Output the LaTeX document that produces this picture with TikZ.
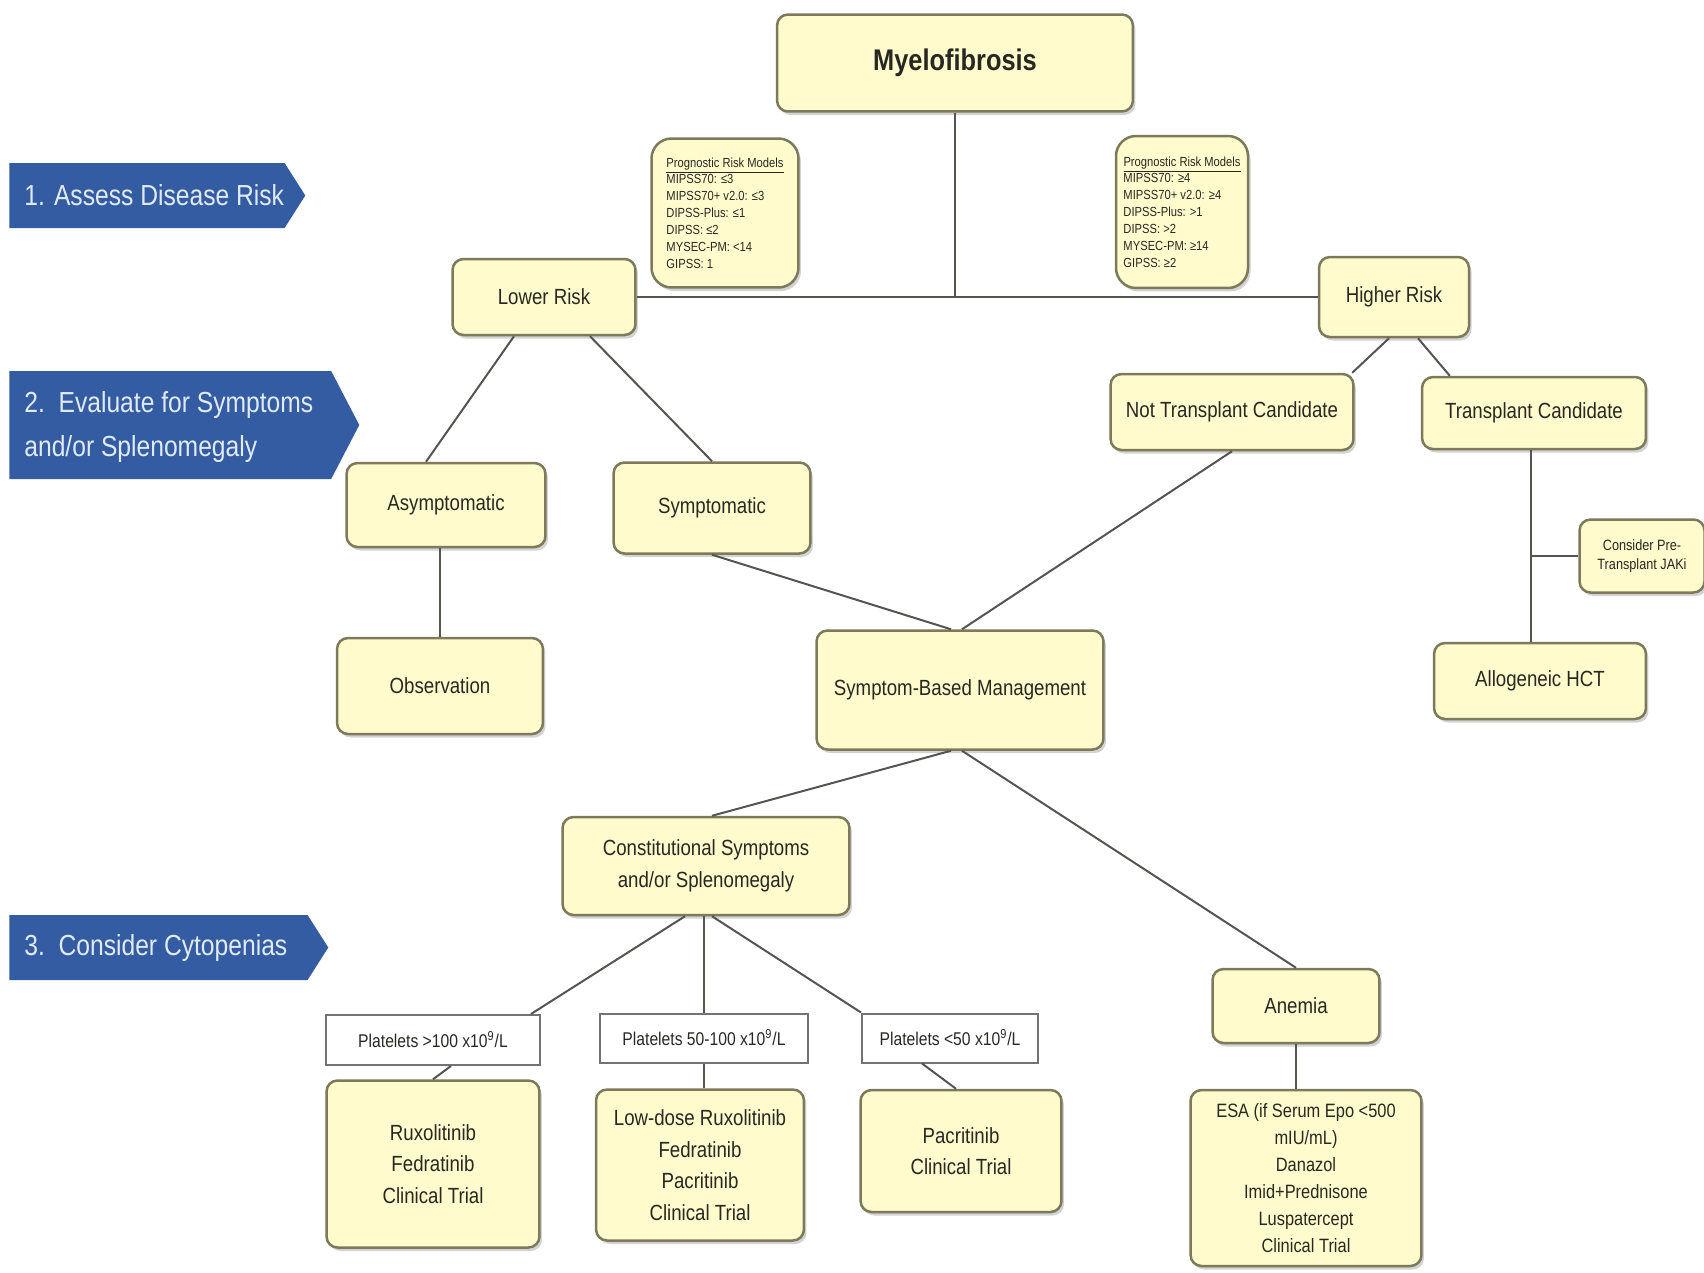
\documentclass[tikz,border=0pt]{standalone}
\usepackage{fontspec}
\setmainfont{Liberation Sans}[FakeStretch=0.85]
\usetikzlibrary{shadows,shapes.symbols}
\definecolor{boxfill}{RGB}{255,251,204}
\definecolor{boxline}{RGB}{125,122,92}
\definecolor{wirecol}{RGB}{85,85,80}
\definecolor{bannerblue}{RGB}{52,92,162}
\definecolor{bannerwhite}{RGB}{225,234,247}
\definecolor{textdark}{RGB}{40,40,35}
\begin{document}
\begin{tikzpicture}[x=0.02cm, y=-0.02cm,
    box/.style={shape=rectangle, rounded corners=0.22cm, draw=boxline, line width=0.05cm, fill=boxfill, text=textdark, align=center, inner sep=0pt, font=\fontsize{12.5}{18}\selectfont, drop shadow={shadow xshift=0.05cm, shadow yshift=-0.07cm, opacity=0.35}},
    titlebox/.style={box, font=\bfseries\fontsize{17}{20}\selectfont},
    progbox/.style={box, rounded corners=0.4cm, align=left, font=\fontsize{7.5}{9.6}\selectfont},
    notebox/.style={box, font=\fontsize{8.5}{10.5}\selectfont},
    esabox/.style={box, font=\fontsize{11}{15.4}\selectfont},
    platbox/.style={shape=rectangle, draw=black!55, line width=0.04cm, fill=white, text=textdark, inner sep=0pt, font=\fontsize{10.5}{12}\selectfont},
    banner/.style={shape=signal, signal to=east, signal pointer angle=115, fill=bannerblue, inner sep=0pt, anchor=west},
    bannertext/.style={anchor=west, align=left, text=bannerwhite, inner sep=0pt, font=\fontsize{16.5}{24.6}\selectfont},
    wire/.style={draw=wirecol, line width=0.04cm}]
  \useasboundingbox (0,0) rectangle (1704,1272);
  % Banners:
  \node[banner, minimum width=5.92cm, minimum height=1.3cm] (step1) at (9,195.5){} node[bannertext] (step1text) at (24,195.5){1. Assess Disease Risk};
  \node[banner, signal pointer angle=125, minimum width=7cm, minimum height=2.16cm] (step2) at (9,425){} node[bannertext] (step2text) at (24,427){2.\ \ Evaluate for Symptoms\\and/or Splenomegaly};
  \node[banner, minimum width=6.38cm, minimum height=1.3cm] (step3) at (9,947.5){} node[bannertext] (step3text) at (24,947.5){3.\ \ Consider Cytopenias};
  % Paths, nodes and wires:
  \node[titlebox, minimum width=7.12cm, minimum height=1.94cm] (myelo) at (955,63){Myelofibrosis};
  \node[progbox, minimum width=2.94cm, minimum height=2.98cm] (progL) at (725,213){\underline{Prognostic Risk Models}\\MIPSS70: ≤3\\MIPSS70+ v2.0: ≤3\\DIPSS-Plus: ≤1\\DIPSS: ≤2\\MYSEC-PM: <14\\GIPSS: 1};
  \node[progbox, minimum width=2.64cm, minimum height=3.04cm] (progH) at (1182,212){\underline{Prognostic Risk Models}\\MIPSS70: ≥4\\MIPSS70+ v2.0: ≥4\\DIPSS-Plus: >1\\DIPSS: >2\\MYSEC-PM: ≥14\\GIPSS: ≥2};
  \node[box, minimum width=3.66cm, minimum height=1.52cm] (lr) at (544,297){Lower Risk};
  \node[box, minimum width=3cm, minimum height=1.6cm] (hr) at (1394,297){Higher Risk};
  \node[box, minimum width=4.86cm, minimum height=1.52cm] (ntc) at (1232,412){Not Transplant Candidate};
  \node[box, minimum width=4.48cm, minimum height=1.44cm] (tc) at (1534,413){Transplant Candidate};
  \node[box, minimum width=3.98cm, minimum height=1.68cm] (asym) at (446,505){Asymptomatic};
  \node[box, minimum width=3.94cm, minimum height=1.82cm] (sym) at (712,508){Symptomatic};
  \node[box, minimum width=4.12cm, minimum height=1.92cm] (obs) at (440,686){Observation};
  \node[box, minimum width=5.74cm, minimum height=2.38cm] (sbm) at (960,690){Symptom-Based Management};
  \node[notebox, minimum width=2.5cm, minimum height=1.46cm] (jak) at (1642,556){Consider Pre-\\Transplant JAKi};
  \node[box, minimum width=4.24cm, minimum height=1.52cm] (allo) at (1540,681){Allogeneic HCT};
  \node[box, minimum width=5.74cm, minimum height=1.96cm] (cs) at (706,866){Constitutional Symptoms\\and/or Splenomegaly};
  \node[box, minimum width=3.34cm, minimum height=1.48cm] (anemia) at (1296,1006){Anemia};
  \node[platbox, minimum width=4.28cm, minimum height=1cm] (p100) at (433,1040){Platelets >100 x10\textsuperscript{9}/L};
  \node[platbox, minimum width=4.18cm, minimum height=0.98cm] (p50) at (704,1038){Platelets 50-100 x10\textsuperscript{9}/L};
  \node[platbox, minimum width=3.52cm, minimum height=0.98cm] (p0) at (950,1038){Platelets <50 x10\textsuperscript{9}/L};
  \node[box, minimum width=4.26cm, minimum height=3.34cm] (rux) at (433,1164){Ruxolitinib\\Fedratinib\\Clinical Trial};
  \node[box, minimum width=4.16cm, minimum height=3.02cm] (low) at (700,1165){Low-dose Ruxolitinib\\Fedratinib\\Pacritinib\\Clinical Trial};
  \node[box, minimum width=4.02cm, minimum height=2.44cm] (pac) at (961,1151){Pacritinib\\Clinical Trial};
  \node[esabox, minimum width=4.62cm, minimum height=3.52cm] (esa) at (1306,1178){ESA (if Serum Epo <500\\mIU/mL)\\Danazol\\Imid+Prednisone\\Luspatercept\\Clinical Trial};
  \draw[wire] (myelo.south) -- (myelo.south |- lr.east);
  \draw[wire] (lr.east) -- (hr.west);
  \draw[wire] ([xshift=-0.1cm]hr.south) -- ([xshift=-0.05cm]ntc.north east);
  \draw[wire] ([xshift=0.48cm]hr.south) -- ([xshift=0.58cm]tc.north west);
  \draw[wire] ([xshift=-0.6cm]lr.south) -- ([xshift=-0.4cm]asym.north);
  \draw[wire] ([xshift=0.92cm]lr.south) -- (sym.north);
  \draw[wire] (obs.north |- asym.south) -- (obs.north);
  \draw[wire] (sym.south) -- ([xshift=-0.18cm]sbm.north);
  \draw[wire] (ntc.south) -- ([xshift=0.04cm]sbm.north);
  \draw[wire] ([xshift=-0.06cm]tc.south) -- ([xshift=-0.06cm]tc.south |- allo.north);
  \draw[wire] ([xshift=-0.06cm]tc.south |- jak.west) -- (jak.west);
  \draw[wire] ([xshift=-0.18cm]sbm.south) -- ([xshift=0.12cm]cs.north);
  \draw[wire] ([xshift=0.04cm]sbm.south) -- (anemia.north);
  \draw[wire] ([xshift=-0.42cm]cs.south) -- ([xshift=-0.2cm]p100.north east);
  \draw[wire] (p50.north |- cs.south) -- (p50.north);
  \draw[wire] ([xshift=0.12cm]cs.south) -- (p0.north west);
  \draw[wire] ([xshift=0.36cm]p100.south) -- (rux.north);
  \draw[wire] (p50.south) -- (p50.south |- low.north);
  \draw[wire] ([xshift=-0.56cm]p0.south) -- ([xshift=-0.1cm]pac.north);
  \draw[wire] (anemia.south) -- (anemia.south |- esa.north);
\end{tikzpicture}
\end{document}
